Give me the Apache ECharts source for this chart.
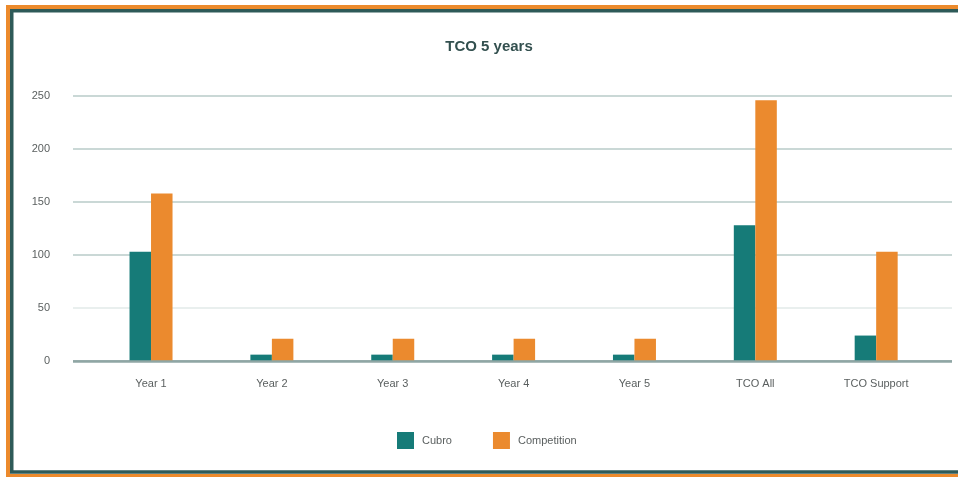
<!DOCTYPE html>
<html>
<head>
<meta charset="utf-8">
<script src="https://cdn.jsdelivr.net/npm/echarts@6/dist/echarts.min.js"></script>
<style>
html,body{margin:0;padding:0;background:#fff;}
#chart{width:958px;height:477px;}
</style>
</head>
<body>
<div id="chart"></div>
<script>
const categories = ['Year 1', 'Year 2', 'Year 3', 'Year 4', 'Year 5', 'TCO All', 'TCO Support'];
const cubro = [103, 6, 6, 6, 6, 128, 24];
const competition = [158, 21, 21, 21, 21, 246, 103];
const yTicks = [0, 50, 100, 150, 200, 250];

const chart = echarts.init(document.getElementById('chart'));
const labelColor = '#5a5f5f';
chart.setOption({
  backgroundColor: '#ffffff',
  animation: false,
  title: {
    text: 'TCO 5 years',
    left: 484, textAlign: 'center',
    top: 34,
    textStyle: { fontFamily: 'Liberation Sans, Arial, sans-serif', fontSize: 15, fontWeight: 'bold', color: '#33504f' }
  },
  legend: {
    data: ['Cubro', 'Competition'],
    left: 392,
    top: 427,
    itemWidth: 17, itemHeight: 17, itemGap: 41,
    icon: 'rect',
    textStyle: { fontFamily: 'Liberation Sans, Arial, sans-serif', fontSize: 11, color: labelColor, padding: [0, 0, 0, 3] }
  },
  graphic: [
    { type: 'rect', silent: true, z: 100, shape: { x: 8, y: 7, width: 1100, height: 469 }, style: { fill: 'none', stroke: '#ec8a2c', lineWidth: 4 } },
    { type: 'rect', silent: true, z: 100, shape: { x: 11.75, y: 10.75, width: 1100, height: 461.25 }, style: { fill: 'none', stroke: '#2e5a58', lineWidth: 3.5 } }
  ],
  grid: [
    { left: 73, right: 6, top: 96, bottom: 116 },
    { left: 90.6, width: 846, top: 96, bottom: 116 }
  ],
  xAxis: [
    { gridIndex: 0, type: 'value', min: 0, max: 1, show: false },
    {
      gridIndex: 1, type: 'category', data: categories,
      axisLine: { show: false }, axisTick: { show: false },
      axisLabel: { margin: 17, fontFamily: 'Liberation Sans, Arial, sans-serif', fontSize: 11, color: labelColor }
    }
  ],
  yAxis: [
    {
      gridIndex: 0, type: 'value', min: yTicks[0], max: yTicks[yTicks.length - 1], interval: 50,
      axisLine: { show: false }, axisTick: { show: false },
      axisLabel: { margin: 23, fontFamily: 'Liberation Sans, Arial, sans-serif', fontSize: 11, color: labelColor },
      splitLine: { show: true, lineStyle: { color: ['#8fa6a4', '#e2eae9', '#b9cbc8', '#b9cbc8', '#b9cbc8', '#b9cbc8'], width: 1.5 } }
    },
    { gridIndex: 1, type: 'value', min: yTicks[0], max: yTicks[yTicks.length - 1], interval: 50, show: false, splitLine: { show: false } }
  ],
  series: [
    {
      name: 'Cubro', type: 'bar', xAxisIndex: 1, yAxisIndex: 1,
      data: cubro, barWidth: 21.5, barGap: '0%',
      itemStyle: { color: '#167b78' }
    },
    {
      name: 'Competition', type: 'bar', xAxisIndex: 1, yAxisIndex: 1,
      data: competition, barWidth: 21.5, barGap: '0%',
      itemStyle: { color: '#eb8a2e' }
    },
    {
      type: 'line', xAxisIndex: 0, yAxisIndex: 0, data: [], silent: true,
      markLine: {
        silent: true, symbol: 'none', label: { show: false },
        lineStyle: { color: '#8fa6a4', width: 2.5, type: 'solid' },
        data: [{ yAxis: 0 }]
      }
    }
  ]
});
</script>
</body>
</html>
